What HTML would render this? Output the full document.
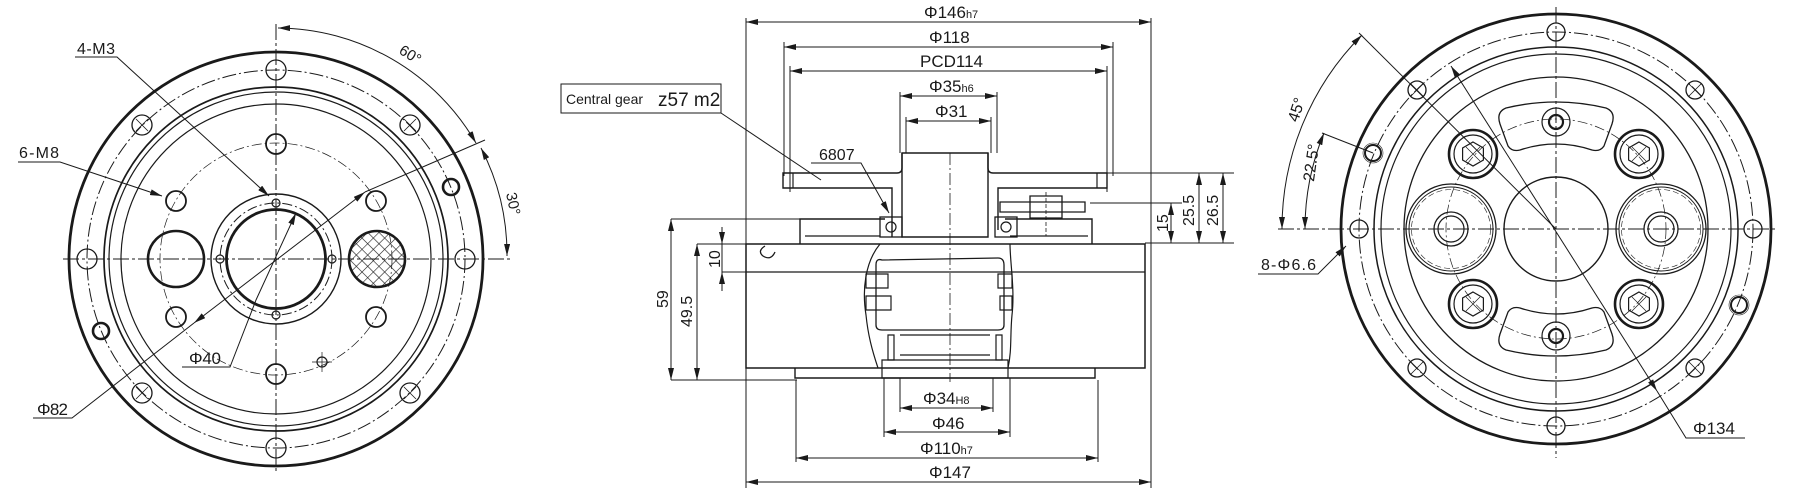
<!DOCTYPE html>
<html><head><meta charset="utf-8"><style>
html,body{margin:0;padding:0;background:#fff}
svg{display:block}
text{font-family:"Liberation Sans Narrow","Liberation Sans",sans-serif;fill:#1a1a1a}
</style></head><body>
<svg width="1808" height="492" viewBox="0 0 1808 492" xmlns="http://www.w3.org/2000/svg">
<defs>
<marker id="a" viewBox="0 0 12 6" refX="12" refY="3" markerWidth="12" markerHeight="6" markerUnits="userSpaceOnUse" orient="auto-start-reverse"><path d="M0,0 L12,3 L0,6z" fill="#1a1a1a" stroke="none"/></marker>
<pattern id="h" width="8" height="8" patternUnits="userSpaceOnUse" patternTransform="rotate(45)"><path d="M0,0H8M0,0V8" stroke="#1a1a1a" stroke-width="1.2"/></pattern>
</defs>
<g fill="none" stroke="#1a1a1a" stroke-width="1.2">

<!-- ============ LEFT VIEW ============ -->
<g>
<circle cx="276" cy="259" r="207" stroke-width="2.8"/>
<circle cx="276" cy="259" r="189" stroke-dasharray="14 3 2 3" stroke-width="1"/>
<circle cx="276" cy="259" r="172" stroke-width="1.7"/>
<circle cx="276" cy="259" r="167"/>
<circle cx="276" cy="259" r="155"/>
<g stroke-width="1.3">
<circle cx="276" cy="70" r="10"/><circle cx="410" cy="125" r="10"/><circle cx="465" cy="259" r="10"/><circle cx="410" cy="393" r="10"/>
<circle cx="276" cy="448" r="10"/><circle cx="142" cy="393" r="10"/><circle cx="87" cy="259" r="10"/><circle cx="142" cy="125" r="10"/>
</g>
<circle cx="451" cy="187" r="8" stroke-width="2.6"/>
<circle cx="101" cy="331" r="8" stroke-width="2.6"/>
<g stroke-width="0.8"><path d="M404,119l12,12M416,119l-12,12M404,387l12,12M416,387l-12,12M136,387l12,12M148,387l-12,12M136,119l12,12M148,119l-12,12"/></g>
<circle cx="276" cy="259" r="65" stroke-width="1.4"/>
<circle cx="276" cy="259" r="56" stroke-dasharray="10 3 2 3" stroke-width="1"/>
<circle cx="276" cy="259" r="49.5" stroke-width="2.8"/>
<circle cx="276" cy="203" r="4"/><circle cx="276" cy="315" r="4"/><circle cx="220" cy="259" r="4"/><circle cx="332" cy="259" r="4"/>
<circle cx="276" cy="259" r="116" stroke-dasharray="10 3 2 3" stroke-width="0.7"/>
<g stroke-width="1.8">
<circle cx="176" cy="201" r="10"/><circle cx="376" cy="201" r="10"/><circle cx="176" cy="317" r="10"/><circle cx="376" cy="317" r="10"/>
<circle cx="276" cy="144" r="10"/><circle cx="276" cy="374" r="10"/>
</g>
<circle cx="176" cy="259" r="28" stroke-width="2.6"/>
<circle cx="377" cy="259" r="28" fill="url(#h)" stroke-width="2.6"/>
<circle cx="322" cy="362" r="5"/><path d="M312,362h20M322,352v20" stroke-width="0.7"/>
<path d="M276,24V472M63,259H513" stroke-dasharray="16 3 3 3" stroke-width="1"/>
<path d="M75,57H117L269,196" marker-end="url(#a)" stroke-width="1"/>
<path d="M18,162H60L162,196" marker-end="url(#a)" stroke-width="1"/>
<path d="M182,367H230L256,300L296,213" marker-end="url(#a)" stroke-width="1"/>
<path d="M33,418H72L194,323" stroke-width="1"/>
<path d="M194,323L365,192" marker-start="url(#a)" marker-end="url(#a)" stroke-width="1"/>
<path d="M365,192L485,140" stroke-width="1"/>
<path d="M278,28A231,231 0 0 1 476,143" marker-start="url(#a)" marker-end="url(#a)" stroke-width="1"/>
<path d="M481,148A231,231 0 0 1 507,256" marker-start="url(#a)" marker-end="url(#a)" stroke-width="1"/>
<g stroke="none">
<text x="77" y="54" font-size="16" textLength="38">4-M3</text>
<text x="19" y="158" font-size="16" textLength="40">6-M8</text>
<text x="189" y="364" font-size="17" textLength="32">Φ40</text>
<text x="37" y="415" font-size="17" textLength="31">Φ82</text>
<text x="400" y="58" font-size="15" transform="rotate(32 408 52)">60°</text>
<text x="500" y="205" font-size="15" transform="rotate(78 510 203)">30°</text>
</g>
</g>

<!-- ============ MIDDLE VIEW ============ -->
<g>
<g stroke-width="1">
<path d="M746,22H1151" marker-start="url(#a)" marker-end="url(#a)"/>
<path d="M784,47H1113" marker-start="url(#a)" marker-end="url(#a)"/>
<path d="M790,71H1107" marker-start="url(#a)" marker-end="url(#a)"/>
<path d="M900,96H997" marker-start="url(#a)" marker-end="url(#a)"/>
<path d="M906,121H991" marker-start="url(#a)" marker-end="url(#a)"/>
<path d="M746,18V488M1151,18V488M784,42V176M1113,42V176M790,66V192M1107,66V192M900,92V153M997,92V153M906,117V153M991,117V153"/>
<rect x="561" y="84" width="160" height="29"/>
<path d="M721,113L821,180"/>
<path d="M811,163H861L889,213" marker-end="url(#a)"/>
</g>
<path d="M902,153H988V237H902Z" stroke-width="1.4"/>
<path d="M902,153V168Q902,173 897,173H783V188H892V237M988,153V168Q988,173 993,173H1107V188H998V230" stroke-width="1.4"/>
<path d="M793,173V188M1097,173V188" />
<path d="M1000,202H1085V212H1000ZM1030,196H1062V218H1030Z" stroke-width="1.3"/>
<path d="M1046,192V236" stroke-dasharray="4 2" stroke-width="0.8"/>
<path d="M800,244V219H885M1005,219H1092V244" stroke-width="1.4"/>
<path d="M805,236H880M1010,236H1088"/>
<rect x="880" y="217" width="22" height="20" stroke-width="1.3"/><circle cx="891" cy="227" r="5"/>
<rect x="995" y="217" width="22" height="20" stroke-width="1.3"/><circle cx="1006" cy="227" r="5"/>
<path d="M746,244H1145V368H746Z" stroke-width="1.5"/>
<path d="M746,272H1145" stroke-width="1.3"/>
<path d="M795,368V378H1095V368" stroke-width="1.4"/>
<path d="M880,244C865,262 862,290 866,315C868,335 872,350 878,368" stroke-width="1.2"/>
<path d="M1010,244C1010,262 1015,290 1012,315C1010,335 1012,350 1008,368" stroke-width="1.2"/>
<path d="M882,260Q876,258 876,265V325Q876,330 882,330H998Q1004,330 1004,325V265Q1004,258 998,258Z" stroke-width="1.3"/>
<path d="M866,274h22v14h-22zM866,296h25v14h-25zM998,274h14v14h-14zM1000,296h12v14h-12z"/>
<path d="M882,360H1008V378H882ZM900,335H990M900,355H990"/>
<path d="M888,335h6v25h-6zM996,335h6v25h-6z"/>
<path d="M765,246q-8,5 -2,10q8,5 12,-4" stroke-width="1.3"/>
<path d="M950,153V382" stroke-dasharray="12 3 2 3" stroke-width="0.8"/>
<g stroke-width="1">
<path d="M1107,173H1234M1090,203H1182M1145,243H1234M671,219H803M697,244H746M722,272H746M671,380H797"/>
<path d="M1171,203V243" marker-start="url(#a)" marker-end="url(#a)"/>
<path d="M1199,173V243" marker-start="url(#a)" marker-end="url(#a)"/>
<path d="M1223,173V243" marker-start="url(#a)" marker-end="url(#a)"/>
<path d="M671,219V380" marker-start="url(#a)" marker-end="url(#a)"/>
<path d="M697,244V380" marker-start="url(#a)" marker-end="url(#a)"/>
<path d="M722,227V244" marker-end="url(#a)"/><path d="M722,291V272" marker-end="url(#a)"/><path d="M722,244V272"/>
<path d="M900,378V412M993,378V412M884,378V437M1010,378V437M796,380V462M1098,380V462"/>
<path d="M900,408H993" marker-start="url(#a)" marker-end="url(#a)"/>
<path d="M884,432H1010" marker-start="url(#a)" marker-end="url(#a)"/>
<path d="M796,458H1098" marker-start="url(#a)" marker-end="url(#a)"/>
<path d="M746,482H1151" marker-start="url(#a)" marker-end="url(#a)"/>
</g>
<g stroke="none">
<text x="924" y="18" font-size="17">Φ146<tspan font-size="11">h7</tspan></text>
<text x="929" y="43" font-size="17">Φ118</text>
<text x="920" y="67" font-size="17">PCD114</text>
<text x="929" y="92" font-size="17">Φ35<tspan font-size="11">h6</tspan></text>
<text x="935" y="117" font-size="17">Φ31</text>
<text x="566" y="104" font-size="14" font-family="'Liberation Sans',sans-serif">Central gear</text>
<text x="658" y="106" font-size="19">z57 m2</text>
<text x="819" y="160" font-size="16">6807</text>
<text x="1168" y="232" font-size="16" transform="rotate(-90 1168 232)">15</text>
<text x="1194" y="226" font-size="16" transform="rotate(-90 1194 226)">25.5</text>
<text x="1218" y="226" font-size="16" transform="rotate(-90 1218 226)">26.5</text>
<text x="668" y="308" font-size="16" transform="rotate(-90 668 308)">59</text>
<text x="692" y="327" font-size="16" transform="rotate(-90 692 327)">49.5</text>
<text x="720" y="268" font-size="16" transform="rotate(-90 720 268)">10</text>
<text x="923" y="404" font-size="17">Φ34<tspan font-size="11">H8</tspan></text>
<text x="932" y="429" font-size="17">Φ46</text>
<text x="920" y="454" font-size="17">Φ110<tspan font-size="11">h7</tspan></text>
<text x="929" y="478" font-size="17">Φ147</text>
</g>
</g>

<!-- ============ RIGHT VIEW ============ -->
<g>
<circle cx="1556" cy="229" r="215" stroke-width="2.8"/>
<circle cx="1556" cy="229" r="197" stroke-dasharray="14 3 2 3" stroke-width="1"/>
<circle cx="1556" cy="229" r="182" stroke-width="1.5"/>
<circle cx="1556" cy="229" r="175"/>
<circle cx="1556" cy="229" r="152" stroke-width="1.3"/>
<g stroke-width="1.3">
<circle cx="1556" cy="32" r="9"/><circle cx="1695" cy="90" r="9"/><circle cx="1753" cy="229" r="9"/><circle cx="1695" cy="368" r="9"/>
<circle cx="1556" cy="426" r="9"/><circle cx="1417" cy="368" r="9"/><circle cx="1359" cy="229" r="9"/><circle cx="1417" cy="90" r="9"/>
</g>
<g stroke-width="0.8"><path d="M1689,84l12,12M1701,84l-12,12M1689,362l12,12M1701,362l-12,12M1411,362l12,12M1423,362l-12,12M1411,84l12,12M1423,84l-12,12"/></g>
<circle cx="1373" cy="153" r="8" stroke-width="2"/><circle cx="1373" cy="153" r="10" stroke-width="0.6"/>
<circle cx="1739" cy="305" r="8" stroke-width="2"/><circle cx="1739" cy="305" r="10" stroke-width="0.6"/>
<circle cx="1556" cy="229" r="52" stroke-width="1.4"/>
<circle cx="1451" cy="229" r="45" stroke-width="1.3"/><circle cx="1451" cy="229" r="42" stroke-width="1"/><circle cx="1451" cy="229" r="39.5" stroke-dasharray="6 3" stroke-width="0.6"/>
<circle cx="1451" cy="229" r="17" stroke-width="1.3"/><circle cx="1451" cy="229" r="13"/>
<circle cx="1661" cy="229" r="45" stroke-width="1.3"/><circle cx="1661" cy="229" r="42" stroke-width="1"/><circle cx="1661" cy="229" r="39.5" stroke-dasharray="6 3" stroke-width="0.6"/>
<circle cx="1661" cy="229" r="17" stroke-width="1.3"/><circle cx="1661" cy="229" r="13"/>
<g>
<circle cx="1473" cy="154" r="24" stroke-width="2.6"/><circle cx="1473" cy="154" r="19"/><path d="M1473,142l10.4,6v12l-10.4,6l-10.4,-6v-12z"/><path d="M1466,147l14,14M1480,147l-14,14" stroke-width="0.7"/>
<circle cx="1639" cy="154" r="24" stroke-width="2.6"/><circle cx="1639" cy="154" r="19"/><path d="M1639,142l10.4,6v12l-10.4,6l-10.4,-6v-12z"/><path d="M1632,147l14,14M1646,147l-14,14" stroke-width="0.7"/>
<circle cx="1473" cy="304" r="24" stroke-width="2.6"/><circle cx="1473" cy="304" r="19"/><path d="M1473,292l10.4,6v12l-10.4,6l-10.4,-6v-12z"/><path d="M1466,297l14,14M1480,297l-14,14" stroke-width="0.7"/>
<circle cx="1639" cy="304" r="24" stroke-width="2.6"/><circle cx="1639" cy="304" r="19"/><path d="M1639,292l10.4,6v12l-10.4,6l-10.4,-6v-12z"/><path d="M1632,297l14,14M1646,297l-14,14" stroke-width="0.7"/>
</g>
<path d="M1506,108Q1556,96 1606,108Q1616,112 1612,124L1604,146Q1600,152 1592,150Q1556,138 1520,150Q1512,152 1508,146L1500,124Q1496,112 1506,108Z" stroke-width="1.3"/>
<path d="M1506,350Q1556,362 1606,350Q1616,346 1612,334L1604,312Q1600,306 1592,308Q1556,320 1520,308Q1512,306 1508,312L1500,334Q1496,346 1506,350Z" stroke-width="1.3"/>
<circle cx="1556" cy="122" r="14"/><circle cx="1556" cy="122" r="7" stroke-width="2.2"/>
<circle cx="1556" cy="336" r="14"/><circle cx="1556" cy="336" r="7" stroke-width="2.2"/>
<circle cx="1556" cy="229" r="110" stroke-dasharray="10 3 2 3" stroke-width="0.7"/>
<path d="M1556,7V458M1278,229H1778" stroke-dasharray="16 3 3 3" stroke-width="1"/>
<g stroke-width="1">
<path d="M1556,229L1359,33" />
<path d="M1373,153L1322,133"/>
<path d="M1282,229A274,274 0 0 1 1362,35" marker-start="url(#a)" marker-end="url(#a)"/>
<path d="M1305,229A251,251 0 0 1 1324,133" marker-start="url(#a)" marker-end="url(#a)"/>
<path d="M1258,274H1318L1346,246" marker-end="url(#a)"/>
<path d="M1745,438H1686L1657,391" />
<path d="M1657,391L1451,66" marker-start="url(#a)" marker-end="url(#a)"/>
</g>
<g stroke="none">
<text x="1292" y="127" font-size="16" transform="rotate(-72 1292 121)">45°</text>
<text x="1300" y="194" font-size="16" transform="rotate(-82 1300 180)">22.5°</text>
<text x="1261" y="270" font-size="16" textLength="55">8-Φ6.6</text>
<text x="1693" y="434" font-size="17" textLength="42">Φ134</text>
</g>
</g>
</g>
</svg>
</body></html>
